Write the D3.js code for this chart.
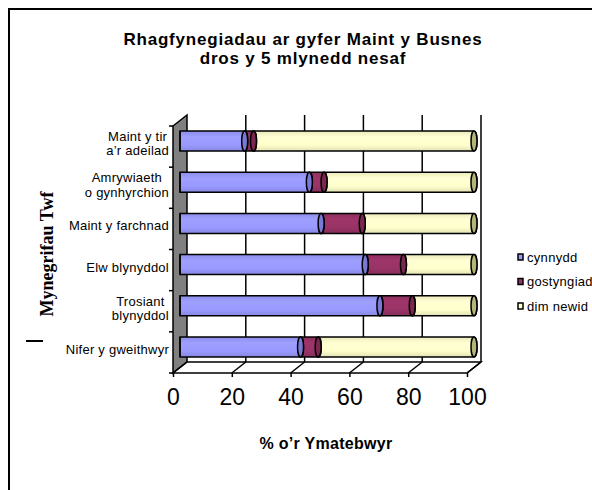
<!DOCTYPE html>
<html>
<head>
<meta charset="utf-8">
<script src="https://cdn.jsdelivr.net/npm/d3@7"></script>
<style>
  body { margin: 0; background: #fff; }
  svg { display: block; font-family: "Liberation Sans", Arial, sans-serif; }
</style>
</head>
<body>
<script>
// categories, top to bottom
var categories = ["Maint y tir\na’r adeilad", "Amrywiaeth\no gynhyrchion", "Maint y farchnad",
  "Elw blynyddol", "Trosiant\nblynyddol", "Nifer y gweithwyr"];
var seriesNames = ["cynnydd", "gostyngiad", "dim newid"];
var cynnydd = [22, 44, 48, 63, 68, 41];
var gostyngiad = [3, 5, 14, 13, 11, 6];
var dimNewid = [75, 51, 38, 24, 21, 53];
var xTicks = [0, 20, 40, 60, 80, 100];

var colors = ["#9999ff", "#993366", "#ffffcc"];
var darker = ["#7a7ad6", "#7a2850", "#d9d9a6"];

var width = 592, height = 490;
var svg = d3.select("body").append("svg")
  .attr("width", width).attr("height", height);

// gradients for the cylinders
var defs = svg.append("defs");
colors.forEach(function(c, i) {
  var g = defs.append("linearGradient").attr("id", "g" + i)
    .attr("x1", 0).attr("y1", 0).attr("x2", 0).attr("y2", 1);
  g.append("stop").attr("offset", "0%").attr("stop-color", d3.color(c).darker(0.25));
  g.append("stop").attr("offset", "30%").attr("stop-color", d3.color(c).brighter(0.1));
  g.append("stop").attr("offset", "70%").attr("stop-color", c);
  g.append("stop").attr("offset", "100%").attr("stop-color", d3.color(c).darker(0.35));
});

// outer frame
svg.append("rect").attr("x", 9).attr("y", 9).attr("width", 600).attr("height", 500)
  .attr("fill", "none").attr("stroke", "#000").attr("stroke-width", 2);

// title
svg.append("text").attr("x", 303).attr("y", 45).attr("text-anchor", "middle")
  .attr("font-weight", "bold").attr("font-size", 17).attr("letter-spacing", 0.8)
  .text("Rhagfynegiadau ar gyfer Maint y Busnes");
svg.append("text").attr("x", 303).attr("y", 64).attr("text-anchor", "middle")
  .attr("font-weight", "bold").attr("font-size", 17).attr("letter-spacing", 0.8)
  .text("dros y 5 mlynedd nesaf");

// 3d frame
var dx = 14, dy = -11;
var x = d3.scaleLinear().domain([0, 100]).range([173, 467]);
var y = d3.scaleBand().domain(categories).range([126, 373]);
var plotTop = 126, plotBottom = 373;

// back wall gridlines
svg.append("g").selectAll("line").data(xTicks.slice(1)).enter().append("line")
  .attr("x1", d => x(d) + dx).attr("x2", d => x(d) + dx)
  .attr("y1", plotTop + dy).attr("y2", plotBottom + dy)
  .attr("stroke", "#000").attr("stroke-width", 1.5);

// left side wall
svg.append("polygon")
  .attr("points", [[x(0), plotTop], [x(0) + dx, plotTop + dy], [x(0) + dx, plotBottom + dy], [x(0), plotBottom]].join(" "))
  .attr("fill", "#808080").attr("stroke", "#000").attr("stroke-width", 1.5);

// floor
svg.append("polygon")
  .attr("points", [[x(0), plotBottom], [x(100), plotBottom], [x(100) + dx, plotBottom + dy], [x(0) + dx, plotBottom + dy]].join(" "))
  .attr("fill", "#fff").attr("stroke", "#000").attr("stroke-width", 1.5);
svg.append("g").selectAll("line").data(xTicks).enter().append("line")
  .attr("x1", d => x(d)).attr("x2", d => x(d) + dx)
  .attr("y1", plotBottom).attr("y2", plotBottom + dy)
  .attr("stroke", "#000").attr("stroke-width", 1.5);

// left axis ticks
svg.append("g").selectAll("line").data(d3.range(categories.length + 1)).enter().append("line")
  .attr("x1", x(0) - 4).attr("x2", x(0))
  .attr("y1", i => plotTop + i * y.bandwidth()).attr("y2", i => plotTop + i * y.bandwidth())
  .attr("stroke", "#000").attr("stroke-width", 1.5);

// stacked cylinders, mid depth
var series = [cynnydd, gostyngiad, dimNewid];
var barH = 20;
var rx = 3;
var bars = svg.append("g");
categories.forEach(function(cat, ci) {
  var cy = y(cat) + y.bandwidth() / 2 + dy / 2;
  var starts = [];
  var acc = 0;
  series.forEach(function(s) { starts.push(acc); acc += s[ci]; });
  // draw from right to left so each end cap sits on the next piece
  for (var si = series.length - 1; si >= 0; si--) {
    var x0 = x(starts[si]) + dx / 2;
    var x1 = x(starts[si] + series[si][ci]) + dx / 2;
    var last = si === series.length - 1;
    bars.append("path")
      .attr("d", "M" + x0 + "," + (cy - barH / 2) + "H" + x1 +
        "A" + rx + "," + (barH / 2) + " 0 0 1 " + x1 + "," + (cy + barH / 2) + "H" + x0 + "Z")
      .attr("fill", "url(#g" + si + ")").attr("stroke", "#000").attr("stroke-width", 1.5);
    bars.append("ellipse")
      .attr("cx", x1).attr("cy", cy).attr("rx", rx).attr("ry", barH / 2)
      .attr("fill", last ? "#b5b57a" : darker[si]).attr("stroke", "#000").attr("stroke-width", 1.5);
  }
  // left end
  var xl = x(0) + dx / 2;
  bars.append("line").attr("x1", xl).attr("x2", xl).attr("y1", cy - barH / 2).attr("y2", cy + barH / 2)
    .attr("stroke", "#000").attr("stroke-width", 1.5);
});

// x axis
var xAxis = svg.append("g").attr("transform", "translate(0," + plotBottom + ")")
  .call(d3.axisBottom(x).tickValues(xTicks).tickSize(4).tickPadding(12));
xAxis.select(".domain").remove();
xAxis.selectAll("line").attr("stroke", "#000").attr("stroke-width", 1.5);
xAxis.selectAll("text").attr("font-size", 23).attr("font-family", "Liberation Sans, Arial, sans-serif")
  .attr("fill", "#000");

// category labels: lines centred in a block, block right aligned
var labelRight = 169;
var labels = svg.append("g").attr("font-size", 13).attr("letter-spacing", 0.25);
categories.forEach(function(cat) {
  var lines = cat.split("\n");
  var g = labels.append("g");
  var cyl = y(cat) + y.bandwidth() / 2 - 3;
  var ts = lines.map(function(line, li) {
    return g.append("text").attr("text-anchor", "middle")
      .attr("y", cyl + (li - (lines.length - 1) / 2) * 14.5)
      .attr("dy", "0.35em").text(line);
  });
  var w = d3.max(ts, t => t.node().getComputedTextLength());
  ts.forEach(t => t.attr("x", labelRight - w / 2));
});

// axis titles
svg.append("text").attr("x", 326).attr("y", 449).attr("text-anchor", "middle")
  .attr("font-weight", "bold").attr("font-size", 16).attr("letter-spacing", 0.3).text("% o’r Ymatebwyr");
svg.append("text").attr("transform", "translate(53,254) rotate(-90)").attr("text-anchor", "middle")
  .attr("font-family", "Liberation Serif, Times New Roman, serif")
  .attr("font-weight", "bold").attr("font-size", 18).text("Mynegrifau Twf");
svg.append("line").attr("x1", 26).attr("x2", 43).attr("y1", 341).attr("y2", 341)
  .attr("stroke", "#000").attr("stroke-width", 2);

// legend
var legend = svg.append("g").attr("font-size", 13).attr("letter-spacing", 0.3);
seriesNames.forEach(function(name, i) {
  var ly = 257 + i * 24.5;
  legend.append("rect").attr("x", 518).attr("y", ly - 3).attr("width", 5).attr("height", 6)
    .attr("fill", colors[i]).attr("stroke", "#000").attr("stroke-width", 1.5);
  legend.append("text").attr("x", 527).attr("y", ly).attr("dy", "0.35em").text(name);
});
</script>
</body>
</html>
